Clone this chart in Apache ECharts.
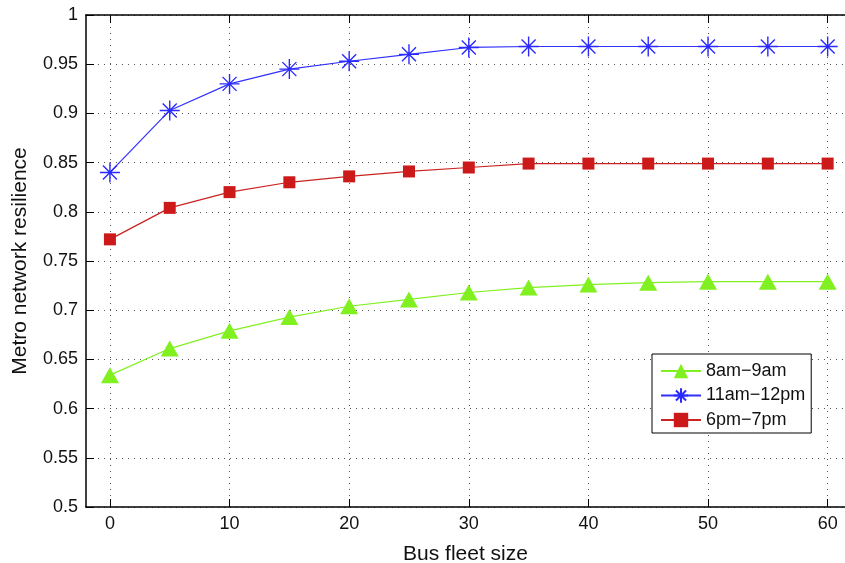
<!DOCTYPE html>
<html><head><meta charset="utf-8">
<script src="https://cdn.jsdelivr.net/npm/echarts@6/dist/echarts.min.js"></script>
<style>html,body{margin:0;padding:0;background:#fff}#c{width:845px;height:563px}</style>
</head><body><div id="c"></div>
<script>
const fleetSize = [0, 5, 10, 15, 20, 25, 30, 35, 40, 45, 50, 55, 60];
const morning = [0.634, 0.661, 0.679, 0.693, 0.704, 0.711, 0.718, 0.723, 0.726, 0.728, 0.729, 0.729, 0.729];
const midday = [0.840, 0.903, 0.930, 0.945, 0.953, 0.960, 0.967, 0.968, 0.968, 0.968, 0.968, 0.968, 0.968];
const evening = [0.772, 0.804, 0.820, 0.830, 0.836, 0.841, 0.845, 0.849, 0.849, 0.849, 0.849, 0.849, 0.849];
const xTicks = [0, 10, 20, 30, 40, 50, 60];
const seriesNames = ['8am\u22129am', '11am\u221212pm', '6pm\u22127pm'];

const font = '"Liberation Sans", Arial, Helvetica, sans-serif';
const pts = arr => fleetSize.map((x, i) => [x, arr[i]]);
const starPath = 'path://M0,-10L0,10M-10,0L10,0M-7,-7L7,7M-7,7L7,-7';
const gridLine = { show: true, lineStyle: { color: '#555', type: [1, 5], width: 1 } };

const chart = echarts.init(document.getElementById('c'));
chart.setOption({
  animation: false,
  backgroundColor: '#fff',
  grid: { left: 86, top: 15, width: 759, height: 492, containLabel: false, outerBoundsMode: 'none' },
  xAxis: [{
    type: 'value', min: -2, max: 61.45, position: 'bottom',
    name: 'Bus fleet size', nameLocation: 'middle', nameGap: 37,
    nameTextStyle: { fontFamily: font, fontSize: 21, color: '#111' },
    axisLine: { show: true, onZero: false, lineStyle: { color: '#000', width: 1.5 } },
    axisTick: { show: true, inside: true, length: 8, customValues: xTicks, lineStyle: { color: '#000' } },
    axisLabel: { customValues: xTicks, fontFamily: font, fontSize: 18, color: '#111', margin: 8 },
    splitLine: gridLine
  }, {
    type: 'value', min: -2, max: 61.45, position: 'top',
    axisLine: { show: true, onZero: false, lineStyle: { color: '#000', width: 1.5 } },
    axisTick: { show: true, inside: true, length: 8, customValues: xTicks, lineStyle: { color: '#000' } },
    axisLabel: { show: false }, splitLine: { show: false }
  }],
  yAxis: [{
    type: 'value', min: 0.5, max: 1, interval: 0.05, position: 'left',
    name: 'Metro network resilience', nameLocation: 'middle', nameGap: 55, nameRotate: 90,
    nameTextStyle: { fontFamily: font, fontSize: 21, color: '#111' },
    axisLine: { show: true, onZero: false, lineStyle: { color: '#000', width: 1.5 } },
    axisTick: { show: true, inside: true, length: 8, lineStyle: { color: '#000' } },
    axisLabel: { fontFamily: font, fontSize: 18, color: '#111', margin: 8,
      formatter: v => String(Math.round(v * 100) / 100) },
    splitLine: gridLine
  }],
  legend: {
    orient: 'vertical', left: 652, top: 354,
    padding: [8, 6, 4, 8], itemGap: 6.5, itemWidth: 40, itemHeight: 18,
    borderColor: '#000', borderWidth: 1, backgroundColor: '#fff',
    textStyle: { fontFamily: font, fontSize: 18, color: '#111' },
    data: seriesNames
  },
  series: [{
    name: seriesNames[0], type: 'line', data: pts(morning),
    symbol: 'triangle', symbolSize: [18, 16],
    lineStyle: { color: '#80f020', width: 1.2 },
    itemStyle: { color: '#80f020', borderColor: '#80f020', borderWidth: 0 }
  }, {
    name: seriesNames[1], type: 'line', data: pts(midday),
    symbol: starPath, symbolSize: 20,
    lineStyle: { color: '#3030ff', width: 1.2 },
    itemStyle: { color: 'transparent', borderColor: '#2a2aff', borderWidth: 1.4 }
  }, {
    name: seriesNames[2], type: 'line', data: pts(evening),
    symbol: 'rect', symbolSize: 12,
    lineStyle: { color: '#cc2222', width: 1.2 },
    itemStyle: { color: '#cc1a1a', borderColor: '#cc1a1a', borderWidth: 0 }
  }]
});
</script></body></html>
